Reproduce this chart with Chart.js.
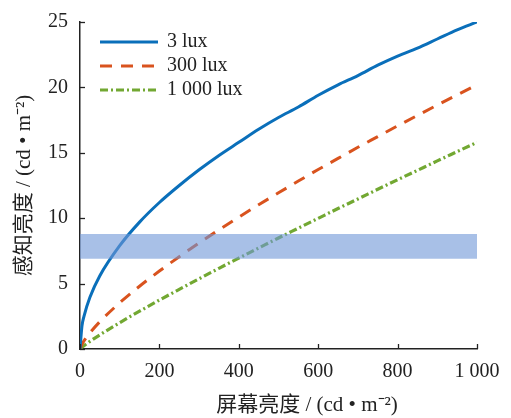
<!DOCTYPE html>
<html>
<head>
<meta charset="utf-8">
<script src="https://cdn.jsdelivr.net/npm/chart.js@4/dist/chart.umd.min.js"></script>
<style>
  html, body { margin: 0; padding: 0; background: #fff; }
  #wrap { width: 511px; height: 418px; }
</style>
</head>
<body>
<div id="wrap"><canvas id="chart" width="511" height="418"></canvas></div>
<script>
// screen luminance (cd/m2)
const screenLum = [0, 5, 10, 25, 50, 100, 150, 200, 250, 300, 350, 400, 450, 500,
                   550, 600, 650, 700, 750, 800, 850, 900, 950, 1000];
// perceived luminance per ambient light level
const lux3    = [0, 1.77, 2.5, 3.95, 5.6, 7.9, 9.7, 11.2, 12.5, 13.7, 14.8, 15.8, 16.8, 17.7,
                18.5, 19.4, 20.2, 20.9, 21.7, 22.4, 23.0, 23.7, 24.4, 25.0];
const lux300  = [0, 0.36, 0.62, 1.23, 2.09, 3.53, 4.80, 5.96, 7.06, 8.11, 9.11, 10.08, 11.03, 11.94,
                12.84, 13.72, 14.57, 15.42, 16.24, 17.06, 17.86, 18.65, 19.43, 20.2];
const lux1000 = [0, 0.14, 0.25, 0.58, 1.08, 2.01, 2.89, 3.74, 4.56, 5.37, 6.17, 6.95, 7.72, 8.49,
                9.24, 9.99, 10.74, 11.47, 12.21, 12.94, 13.66, 14.38, 15.09, 15.8];
const seriesNames = ['3 lux', '300 lux', '1 000 lux'];
// comfort band
const bandRange = [0, 1000];
const bandLow  = 6.9;
const bandHigh = 8.8;
const xTicks = [0, 200, 400, 600, 800, 1000];
const xTickLabels = ['0', '200', '400', '600', '800', '1 000'];
const yTicks = [0, 5, 10, 15, 20, 25];
const xTitle = '屏幕亮度 / (cd • m⁻²)';
const yTitle = '感知亮度 / (cd • m⁻²)';

const serif = '"Liberation Serif", "Noto Sans CJK SC", serif';
const toXY = ys => screenLum.map((x, i) => ({ x, y: ys[i] }));

// inward tick marks + x title + in-plot legend
const extras = {
  id: 'extras',
  afterDraw(chart) {
    const { ctx, chartArea: a, scales: { x, y } } = chart;
    ctx.save();
    ctx.strokeStyle = '#222';
    ctx.lineWidth = 1.3;
    xTicks.forEach(v => {
      const px = Math.round(x.getPixelForValue(v)) + 0.5;
      ctx.beginPath(); ctx.moveTo(px, a.bottom); ctx.lineTo(px, a.bottom - 5); ctx.stroke();
    });
    yTicks.forEach(v => {
      const py = Math.round(y.getPixelForValue(v)) + 0.5;
      ctx.beginPath(); ctx.moveTo(a.left, py); ctx.lineTo(a.left + 5, py); ctx.stroke();
    });

    // x axis title
    ctx.fillStyle = '#222';
    ctx.font = '21px ' + serif;
    ctx.textAlign = 'center';
    ctx.textBaseline = 'middle';
    ctx.fillText(xTitle, 307, 405);

    // legend
    ctx.font = '20px ' + serif;
    const ds = chart.data.datasets.filter(d => d.legend);
    ds.forEach((d, i) => {
      const ly = 42 + i * 24;
      ctx.beginPath();
      ctx.strokeStyle = d.borderColor;
      ctx.lineWidth = d.borderWidth;
      ctx.setLineDash(d.borderDash || []);
      ctx.moveTo(100, ly); ctx.lineTo(158, ly);
      ctx.stroke();
      ctx.setLineDash([]);
      ctx.fillStyle = '#222';
      ctx.textAlign = 'left';
      ctx.fillText(d.label, 167, ly);
    });
    ctx.restore();
  }
};

new Chart(document.getElementById('chart'), {
  type: 'line',
  data: {
    datasets: [
      {
        label: 'band-top', order: -2,
        data: bandRange.map(x => ({ x, y: bandHigh })),
        borderWidth: 0, pointRadius: 0, fill: '+1',
        backgroundColor: 'rgba(110,150,215,0.6)'
      },
      {
        label: 'band-bottom', order: -1,
        data: bandRange.map(x => ({ x, y: bandLow })),
        borderWidth: 0, pointRadius: 0, fill: false
      },
      {
        label: seriesNames[0], legend: true, data: toXY(lux3),
        borderColor: '#0a6fba', borderWidth: 3, pointRadius: 0,
        cubicInterpolationMode: 'monotone'
      },
      {
        label: seriesNames[1], legend: true, data: toXY(lux300),
        borderColor: '#d9531e', borderWidth: 3, borderDash: [12, 9], pointRadius: 0,
        cubicInterpolationMode: 'monotone'
      },
      {
        label: seriesNames[2], legend: true, data: toXY(lux1000),
        borderColor: '#72a832', borderWidth: 3.2, borderDash: [8, 3, 2, 3], pointRadius: 0,
        cubicInterpolationMode: 'monotone'
      }
    ]
  },
  options: {
    responsive: false,
    animation: false,
    layout: { padding: { left: 0, right: 34, top: 22, bottom: 0 } },
    plugins: { legend: { display: false }, tooltip: { enabled: false } },
    scales: {
      x: {
        type: 'linear', min: 0, max: 1000,
        afterBuildTicks: s => { s.ticks = xTicks.map(value => ({ value })); },
        afterFit: s => { s.height = 69; },
        grid: { display: false },
        border: { color: '#222', width: 1.5 },
        ticks: {
          color: '#222', font: { family: serif, size: 20 }, padding: 3,
          maxRotation: 0,
          callback: v => xTickLabels[xTicks.indexOf(v)]
        }
      },
      y: {
        type: 'linear', min: 0, max: 25,
        afterBuildTicks: s => { s.ticks = yTicks.map(value => ({ value })); },
        afterFit: s => { s.width = 80; },
        grid: { display: false },
        border: { color: '#222', width: 1.5 },
        ticks: { color: '#222', font: { family: serif, size: 20 }, padding: 4 },
        title: {
          display: true, text: yTitle, color: '#222',
          font: { family: serif, size: 21 }, padding: { top: 12, bottom: 0 }
        }
      }
    }
  },
  plugins: [extras]
});
</script>
</body>
</html>
